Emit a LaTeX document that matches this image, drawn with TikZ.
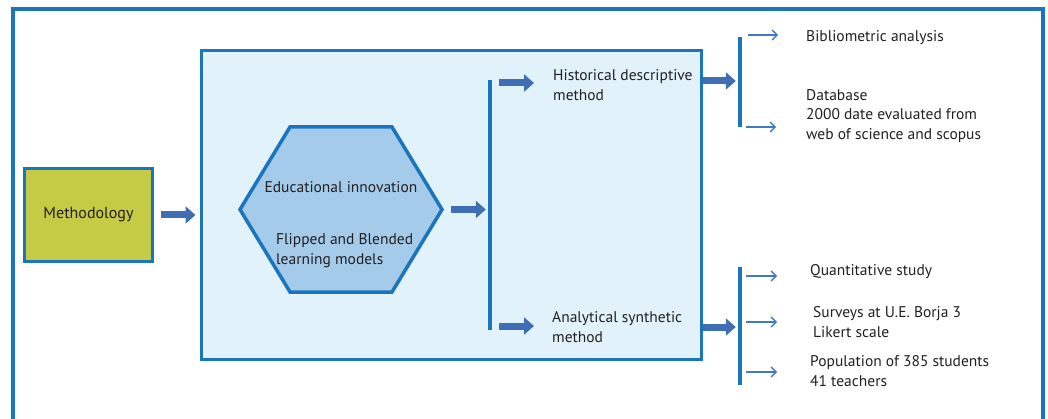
\documentclass[tikz,border=0pt]{standalone}
\usepackage{fontspec}
\setmainfont{PT Sans}
\usetikzlibrary{arrows.meta}
\definecolor{frameblue}{HTML}{1B75BC}
\definecolor{boxfill}{HTML}{E1F2FA}
\definecolor{hexfill}{HTML}{A4CBEA}
\definecolor{methfill}{HTML}{C5CB45}
\definecolor{arrblue}{HTML}{3F6EB5}
\definecolor{thinblue}{HTML}{4279C3}
\definecolor{txt}{HTML}{231F20}
\tikzset{
  lbl/.style={font=\fontsize{15.5}{19.5}\selectfont, text=txt, inner sep=0pt, align=left},
  methbox/.style={draw=frameblue, line width=3.5pt, fill=methfill, minimum width=128pt, minimum height=93pt, inner sep=0pt, font=\fontsize{16}{19}\selectfont, text=txt},
  bigbox/.style={draw=frameblue, line width=3pt, fill=boxfill, minimum width=500pt, minimum height=308pt, inner sep=0pt},
  hexstyle/.style={draw=frameblue, line width=3.5pt, fill=hexfill, line join=miter},
  vbar/.style={fill=frameblue, inner sep=0pt, minimum width=4pt},
  blockarr/.style={draw=arrblue, line width=7pt, -{Triangle[length=10pt,width=17pt]}},
  thinarr/.style={draw=thinblue, line width=1.4pt, -{Straight Barb[length=5pt,width=10pt]}},
}
\begin{document}
\begin{tikzpicture}[x=1pt,y=-1pt]
\useasboundingbox (0,0) rectangle (1048,419);
% outer frame
\draw[frameblue, line width=3.5pt] (13,430) -- (13,9) -- (1043,9) -- (1043,430);
% methodology
\node[methbox] (meth) at (88.5,215) {Methodology};
% big box
\node[bigbox] (big) at (451,205) {};
% hexagon
\draw[hexstyle] (240,209.5) -- (290,127) -- (392,127) -- (442,209.5) -- (392,292) -- (290,292) -- cycle;
\coordinate (hexE) at (442,209.5);
\node[lbl, anchor=center] (edu) at (341,187) {Educational innovation};
\node[lbl, anchor=west] (flip) at (276,250.5) {Flipped and Blended\\learning models};
% bars
\node[vbar, minimum height=250pt] (bar1) at (490,205) {};
\node[vbar, minimum height=90pt] (bar2) at (740,82) {};
\node[vbar, minimum height=118pt] (bar3) at (740,326) {};
% method labels
\node[lbl, anchor=west] (hist) at (553,85) {Historical descriptive\\method};
\node[lbl, anchor=west] (anal) at (552,327) {Analytical synthetic\\method};
% right labels
\node[lbl, anchor=west] (bib) at (806,38) {Bibliometric analysis};
\node[lbl, anchor=west] (db) at (806,116) {Database\\2000 date evaluated from\\web of science and scopus};
\coordinate (dbarr) at (776,127);
\node[lbl, anchor=west] (quant) at (810,272) {Quantitative study};
\node[lbl, anchor=west] (surv) at (813,322) {Surveys at U.E. Borja 3\\Likert scale};
\node[lbl, anchor=west] (pop) at (810,371) {Population of 385 students\\41 teachers};
% block arrows
\draw[blockarr, shorten <=7pt, shorten >=4pt] (meth.east) -- (meth.east -| big.west);
\draw[blockarr, shorten <=9pt, shorten >=2pt] (hexE) -- (hexE -| bar1.west);
\draw[blockarr, shorten <=7pt, shorten >=19pt] (bar1.east |- 0,83) -- (hist.west |- 0,83);
\draw[blockarr, shorten <=7pt, shorten >=18pt] (bar1.east |- 0,326) -- (anal.west |- 0,326);
\draw[blockarr, shorten >=2pt] (big.east |- 0,81) -- (bar2.west |- 0,81);
\draw[blockarr, shorten >=2pt] (big.east |- 0,327) -- (bar3.west |- 0,327);
% thin arrows
\draw[thinarr, shorten <=6pt, shorten >=28pt] (bar2.east |- 0,35) -- (bib.west |- 0,35);
\draw[thinarr, shorten <=4pt] (bar2.east |- dbarr) -- (dbarr);
\draw[thinarr, shorten <=4pt, shorten >=33pt] (bar3.east |- 0,276) -- (quant.west |- 0,276);
\draw[thinarr, shorten <=4pt, shorten >=36pt] (bar3.east |- surv.west) -- (surv.west);
\draw[thinarr, shorten <=4pt, shorten >=33pt] (bar3.east |- 0,372) -- (pop.west |- 0,372);
\end{tikzpicture}
\end{document}
